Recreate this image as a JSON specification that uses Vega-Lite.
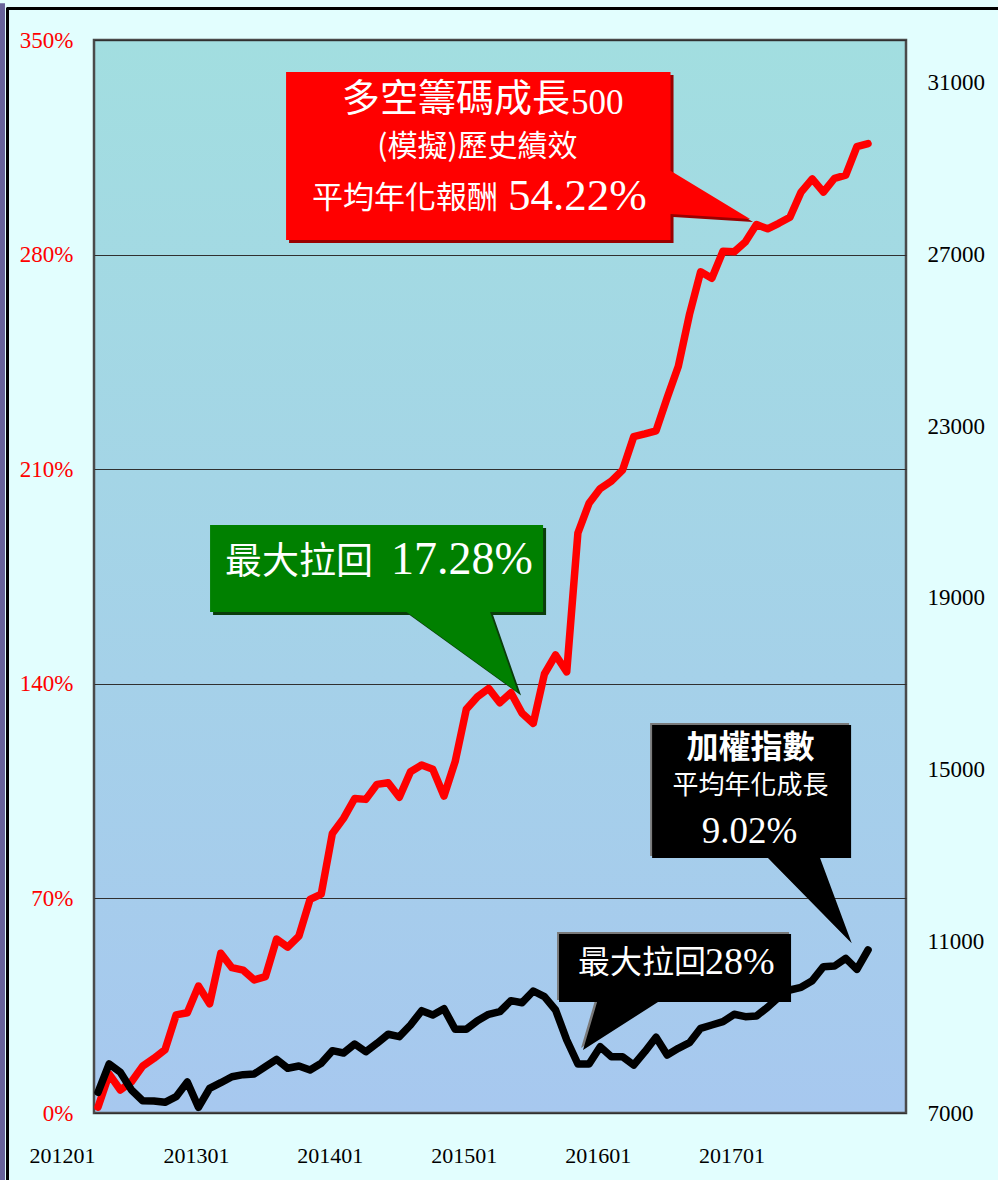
{
  "$schema": "https://vega.github.io/schema/vega-lite/v6.json",
  "width": 812,
  "height": 1073,
  "autosize": "none",
  "padding": {"left": 94, "top": 40, "right": 92, "bottom": 67},
  "background": "#E2FEFE",
  "config": {
    "view": {
      "stroke": "#4a4a4a",
      "strokeWidth": 2.5,
      "fill": {"gradient": "linear", "x1": 0, "y1": 0, "x2": 0, "y2": 1, "stops": [{"offset": 0, "color": "#A2DEE0"}, {"offset": 1, "color": "#A7C8EF"}]}
    },
    "axis": {"labelFont": "Liberation Serif", "labelFontSize": 23, "ticks": false, "domain": false, "title": null}
  },
  "datasets": {
    "series": [
      {"t": 0, "pct": 1.9, "taiex": 7482},
      {"t": 1, "pct": 12.7, "taiex": 8142},
      {"t": 2, "pct": 7.5, "taiex": 7948},
      {"t": 3, "pct": 10.2, "taiex": 7536},
      {"t": 4, "pct": 15.3, "taiex": 7287},
      {"t": 5, "pct": 17.8, "taiex": 7280},
      {"t": 6, "pct": 20.6, "taiex": 7249},
      {"t": 7, "pct": 32.0, "taiex": 7380},
      {"t": 8, "pct": 32.7, "taiex": 7722},
      {"t": 9, "pct": 41.4, "taiex": 7133},
      {"t": 10, "pct": 35.6, "taiex": 7575},
      {"t": 11, "pct": 52.1, "taiex": 7706},
      {"t": 12, "pct": 47.4, "taiex": 7846},
      {"t": 13, "pct": 46.6, "taiex": 7893},
      {"t": 14, "pct": 43.4, "taiex": 7909},
      {"t": 15, "pct": 44.5, "taiex": 8079},
      {"t": 16, "pct": 56.7, "taiex": 8251},
      {"t": 17, "pct": 54.1, "taiex": 8042},
      {"t": 18, "pct": 57.7, "taiex": 8095},
      {"t": 19, "pct": 69.7, "taiex": 8002},
      {"t": 20, "pct": 71.4, "taiex": 8158},
      {"t": 21, "pct": 91.2, "taiex": 8452},
      {"t": 22, "pct": 96.1, "taiex": 8398},
      {"t": 23, "pct": 102.6, "taiex": 8608},
      {"t": 24, "pct": 102.3, "taiex": 8428},
      {"t": 25, "pct": 107.2, "taiex": 8624},
      {"t": 26, "pct": 107.7, "taiex": 8834},
      {"t": 27, "pct": 103.0, "taiex": 8779},
      {"t": 28, "pct": 111.3, "taiex": 9050},
      {"t": 29, "pct": 113.5, "taiex": 9384},
      {"t": 30, "pct": 112.1, "taiex": 9283},
      {"t": 31, "pct": 103.4, "taiex": 9430},
      {"t": 32, "pct": 114.6, "taiex": 8950},
      {"t": 33, "pct": 131.7, "taiex": 8950},
      {"t": 34, "pct": 135.8, "taiex": 9151},
      {"t": 35, "pct": 138.5, "taiex": 9300},
      {"t": 36, "pct": 133.8, "taiex": 9360},
      {"t": 37, "pct": 137.1, "taiex": 9617},
      {"t": 38, "pct": 130.4, "taiex": 9570},
      {"t": 39, "pct": 127.1, "taiex": 9843},
      {"t": 40, "pct": 143.2, "taiex": 9710},
      {"t": 41, "pct": 149.4, "taiex": 9400},
      {"t": 42, "pct": 143.9, "taiex": 8700},
      {"t": 43, "pct": 189.2, "taiex": 8142},
      {"t": 44, "pct": 198.9, "taiex": 8142},
      {"t": 45, "pct": 203.7, "taiex": 8545},
      {"t": 46, "pct": 206.1, "taiex": 8312},
      {"t": 47, "pct": 209.7, "taiex": 8312},
      {"t": 48, "pct": 220.6, "taiex": 8118},
      {"t": 49, "pct": 221.5, "taiex": 8428},
      {"t": 50, "pct": 222.5, "taiex": 8764},
      {"t": 51, "pct": 233.3, "taiex": 8351},
      {"t": 52, "pct": 243.6, "taiex": 8507},
      {"t": 53, "pct": 260.5, "taiex": 8638},
      {"t": 54, "pct": 274.4, "taiex": 8973},
      {"t": 55, "pct": 272.3, "taiex": 9050},
      {"t": 56, "pct": 281.1, "taiex": 9127},
      {"t": 57, "pct": 280.9, "taiex": 9300},
      {"t": 58, "pct": 284.1, "taiex": 9244},
      {"t": 59, "pct": 289.8, "taiex": 9260},
      {"t": 60, "pct": 288.4, "taiex": 9463},
      {"t": 61, "pct": 290.2, "taiex": 9696},
      {"t": 62, "pct": 292.2, "taiex": 9866},
      {"t": 63, "pct": 300.4, "taiex": 9928},
      {"t": 64, "pct": 304.7, "taiex": 10083},
      {"t": 65, "pct": 300.4, "taiex": 10409},
      {"t": 66, "pct": 304.9, "taiex": 10425},
      {"t": 67, "pct": 305.9, "taiex": 10604},
      {"t": 68, "pct": 315.2, "taiex": 10348},
      {"t": 69, "pct": 316.2, "taiex": 10798}
    ],
    "callouts": [
      {"shape": "red", "i": 0, "t": 16.85, "v": 339.56},
      {"shape": "red", "i": 1, "t": 51.30, "v": 339.56},
      {"shape": "red", "i": 2, "t": 51.30, "v": 307.37},
      {"shape": "red", "i": 3, "t": 58.43, "v": 291.61},
      {"shape": "red", "i": 4, "t": 51.30, "v": 293.25},
      {"shape": "red", "i": 5, "t": 51.30, "v": 284.76},
      {"shape": "red", "i": 6, "t": 16.85, "v": 284.76},
      {"shape": "green", "i": 0, "t": 10.04, "v": 191.80},
      {"shape": "green", "i": 1, "t": 39.88, "v": 191.80},
      {"shape": "green", "i": 2, "t": 39.88, "v": 163.42},
      {"shape": "green", "i": 3, "t": 35.13, "v": 163.42},
      {"shape": "green", "i": 4, "t": 37.64, "v": 137.16},
      {"shape": "green", "i": 5, "t": 27.65, "v": 163.42},
      {"shape": "green", "i": 6, "t": 10.04, "v": 163.42},
      {"shape": "black1", "i": 0, "t": 49.65, "v": 126.56},
      {"shape": "black1", "i": 1, "t": 67.48, "v": 126.56},
      {"shape": "black1", "i": 2, "t": 67.48, "v": 83.18},
      {"shape": "black1", "i": 3, "t": 64.70, "v": 83.18},
      {"shape": "black1", "i": 4, "t": 67.54, "v": 55.35},
      {"shape": "black1", "i": 5, "t": 60.04, "v": 83.18},
      {"shape": "black1", "i": 6, "t": 49.65, "v": 83.18},
      {"shape": "black2", "i": 0, "t": 41.31, "v": 58.39},
      {"shape": "black2", "i": 1, "t": 62.10, "v": 58.39},
      {"shape": "black2", "i": 2, "t": 62.10, "v": 36.21},
      {"shape": "black2", "i": 3, "t": 50.18, "v": 36.21},
      {"shape": "black2", "i": 4, "t": 43.46, "v": 20.55},
      {"shape": "black2", "i": 5, "t": 44.72, "v": 36.21},
      {"shape": "black2", "i": 6, "t": 41.31, "v": 36.21}
    ],
    "notes": [
      {"id": "n1", "text": "多空籌碼成長", "t": 42.30, "v": 330.43},
      {"id": "n2", "text": "500", "t": 42.39, "v": 329.6},
      {"id": "n3", "text": "(模擬)歷史績效", "t": 34.0, "v": 315.10},
      {"id": "n4", "text": "平均年化報酬", "t": 35.85, "v": 298.14},
      {"id": "n5", "text": "54.22%", "t": 36.74, "v": 299.12},
      {"id": "n6", "text": "最大拉回", "t": 11.38, "v": 179.40},
      {"id": "n7", "text": "17.28%", "t": 26.26, "v": 180.22},
      {"id": "n8", "text": "加權指數", "t": 58.47, "v": 119.06},
      {"id": "n9", "text": "平均年化成長", "t": 58.47, "v": 106.66},
      {"id": "n10", "text": "9.02%", "t": 58.38, "v": 91.66},
      {"id": "n11", "text": "最大拉回", "t": 43.01, "v": 48.93},
      {"id": "n12", "text": "28%", "t": 54.40, "v": 48.93}
    ],
    "frame": [
      {"part": "top", "t1": -8.2, "t2": 81, "v1": 360.29, "v2": 360.29},
      {"part": "left", "t1": -8.11, "t2": -8.11, "v1": -22, "v2": 360.45},
      {"part": "bar", "t1": -8.56, "t2": -8.56, "v1": -22, "v2": 362}
    ]
  },
  "layer": [
    {
      "data": {"name": "series"},
      "mark": {"type": "line", "color": "#FF0000", "strokeWidth": 7.5, "strokeJoin": "round", "strokeCap": "round"},
      "encoding": {
        "x": {
          "field": "t", "type": "quantitative",
          "scale": {"domain": [-0.36, 72.4], "nice": false, "zero": false},
          "axis": {
            "values": [0, 12, 24, 36, 48, 60],
            "labelExpr": "['201201','201301','201401','201501','201601','201701'][round(datum.value/12)]",
            "labelOffset": -36, "labelPadding": 42, "labelFlush": false, "labelBound": false,
            "grid": false, "labelColor": "#000000", "labelFontSize": 22, "labelBaseline": "middle"
          }
        },
        "y": {
          "field": "pct", "type": "quantitative",
          "scale": {"domain": [0, 350], "nice": false, "zero": false},
          "axis": {
            "values": [0, 70, 140, 210, 280, 350],
            "labelExpr": "datum.value + '%'",
            "labelColor": "#FF0000", "labelPadding": 21,
            "grid": true, "gridColor": "#303030", "gridWidth": 1, "gridOpacity": 1
          }
        }
      }
    },
    {
      "data": {"name": "series"},
      "mark": {"type": "line", "color": "#000000", "strokeWidth": 7.5, "strokeJoin": "round", "strokeCap": "round"},
      "encoding": {
        "x": {"field": "t", "type": "quantitative"},
        "y": {
          "field": "taiex", "type": "quantitative",
          "scale": {"domain": [7000, 32000], "nice": false, "zero": false},
          "axis": {
            "orient": "right",
            "values": [7000, 11000, 15000, 19000, 23000, 27000, 31000],
            "format": "d", "labelColor": "#000000", "labelPadding": 21, "grid": false
          }
        }
      }
    },
    {
      "layer": [
        {
          "data": {"name": "callouts"},
          "transform": [{"filter": "datum.shape == 'red' || datum.shape == 'green'"}],
          "mark": {"type": "line", "filled": true, "interpolate": "linear-closed", "xOffset": 3, "yOffset": 3},
          "encoding": {
            "x": {"field": "t", "type": "quantitative"},
            "y": {"field": "v", "type": "quantitative", "scale": {"domain": [0, 350], "nice": false, "zero": false}, "axis": null},
            "order": {"field": "i", "type": "quantitative"},
            "detail": {"field": "shape"},
            "color": {"field": "shape", "type": "nominal", "legend": null, "scale": {"domain": ["red", "green"], "range": ["#9A0000", "#0B3D0B"]}}
          }
        },
        {
          "data": {"name": "callouts"},
          "transform": [{"filter": "datum.shape == 'black1' || datum.shape == 'black2'"}],
          "mark": {"type": "line", "filled": true, "interpolate": "linear-closed", "xOffset": -2, "yOffset": -2, "color": "#7a7a7a"},
          "encoding": {
            "x": {"field": "t", "type": "quantitative"},
            "y": {"field": "v", "type": "quantitative", "axis": null},
            "order": {"field": "i", "type": "quantitative"},
            "detail": {"field": "shape"}
          }
        },
        {
          "data": {"name": "callouts"},
          "mark": {"type": "line", "filled": true, "interpolate": "linear-closed"},
          "encoding": {
            "x": {"field": "t", "type": "quantitative"},
            "y": {"field": "v", "type": "quantitative", "axis": null},
            "order": {"field": "i", "type": "quantitative"},
            "detail": {"field": "shape"},
            "fill": {"field": "shape", "type": "nominal", "legend": null, "scale": {"domain": ["red", "green", "black1", "black2"], "range": ["#FF0000", "#008000", "#000000", "#000000"]}}
          }
        },
        {
          "data": {"name": "notes"},
          "transform": [{"filter": "datum.id == 'n1'"}],
          "mark": {"type": "text", "font": "Noto Sans CJK TC", "fontSize": 38, "color": "#FFFFFF", "align": "right", "baseline": "middle"},
          "encoding": {"x": {"field": "t", "type": "quantitative"}, "y": {"field": "v", "type": "quantitative", "axis": null}, "text": {"field": "text"}}
        },
        {
          "data": {"name": "notes"},
          "transform": [{"filter": "datum.id == 'n2'"}],
          "mark": {"type": "text", "font": "Liberation Serif", "fontSize": 35, "color": "#FFFFFF", "align": "left", "baseline": "middle"},
          "encoding": {"x": {"field": "t", "type": "quantitative"}, "y": {"field": "v", "type": "quantitative", "axis": null}, "text": {"field": "text"}}
        },
        {
          "data": {"name": "notes"},
          "transform": [{"filter": "datum.id == 'n3'"}],
          "mark": {"type": "text", "font": "Noto Sans CJK TC", "fontSize": 30, "color": "#FFFFFF", "align": "center", "baseline": "middle"},
          "encoding": {"x": {"field": "t", "type": "quantitative"}, "y": {"field": "v", "type": "quantitative", "axis": null}, "text": {"field": "text"}}
        },
        {
          "data": {"name": "notes"},
          "transform": [{"filter": "datum.id == 'n4'"}],
          "mark": {"type": "text", "font": "Noto Sans CJK TC", "fontSize": 31, "color": "#FFFFFF", "align": "right", "baseline": "middle"},
          "encoding": {"x": {"field": "t", "type": "quantitative"}, "y": {"field": "v", "type": "quantitative", "axis": null}, "text": {"field": "text"}}
        },
        {
          "data": {"name": "notes"},
          "transform": [{"filter": "datum.id == 'n5'"}],
          "mark": {"type": "text", "font": "Liberation Serif", "fontSize": 45, "color": "#FFFFFF", "align": "left", "baseline": "middle"},
          "encoding": {"x": {"field": "t", "type": "quantitative"}, "y": {"field": "v", "type": "quantitative", "axis": null}, "text": {"field": "text"}}
        },
        {
          "data": {"name": "notes"},
          "transform": [{"filter": "datum.id == 'n6'"}],
          "mark": {"type": "text", "font": "Noto Sans CJK TC", "fontSize": 37, "color": "#FFFFFF", "align": "left", "baseline": "middle"},
          "encoding": {"x": {"field": "t", "type": "quantitative"}, "y": {"field": "v", "type": "quantitative", "axis": null}, "text": {"field": "text"}}
        },
        {
          "data": {"name": "notes"},
          "transform": [{"filter": "datum.id == 'n7'"}],
          "mark": {"type": "text", "font": "Liberation Serif", "fontSize": 46, "color": "#FFFFFF", "align": "left", "baseline": "middle"},
          "encoding": {"x": {"field": "t", "type": "quantitative"}, "y": {"field": "v", "type": "quantitative", "axis": null}, "text": {"field": "text"}}
        },
        {
          "data": {"name": "notes"},
          "transform": [{"filter": "datum.id == 'n8'"}],
          "mark": {"type": "text", "font": "Noto Sans CJK TC", "fontSize": 32, "fontWeight": "bold", "color": "#FFFFFF", "align": "center", "baseline": "middle"},
          "encoding": {"x": {"field": "t", "type": "quantitative"}, "y": {"field": "v", "type": "quantitative", "axis": null}, "text": {"field": "text"}}
        },
        {
          "data": {"name": "notes"},
          "transform": [{"filter": "datum.id == 'n9'"}],
          "mark": {"type": "text", "font": "Noto Sans CJK TC", "fontSize": 26, "color": "#FFFFFF", "align": "center", "baseline": "middle"},
          "encoding": {"x": {"field": "t", "type": "quantitative"}, "y": {"field": "v", "type": "quantitative", "axis": null}, "text": {"field": "text"}}
        },
        {
          "data": {"name": "notes"},
          "transform": [{"filter": "datum.id == 'n10'"}],
          "mark": {"type": "text", "font": "Liberation Serif", "fontSize": 37, "color": "#FFFFFF", "align": "center", "baseline": "middle"},
          "encoding": {"x": {"field": "t", "type": "quantitative"}, "y": {"field": "v", "type": "quantitative", "axis": null}, "text": {"field": "text"}}
        },
        {
          "data": {"name": "notes"},
          "transform": [{"filter": "datum.id == 'n11'"}],
          "mark": {"type": "text", "font": "Noto Sans CJK TC", "fontSize": 32, "color": "#FFFFFF", "align": "left", "baseline": "middle"},
          "encoding": {"x": {"field": "t", "type": "quantitative"}, "y": {"field": "v", "type": "quantitative", "axis": null}, "text": {"field": "text"}}
        },
        {
          "data": {"name": "notes"},
          "transform": [{"filter": "datum.id == 'n12'"}],
          "mark": {"type": "text", "font": "Liberation Serif", "fontSize": 38, "color": "#FFFFFF", "align": "left", "baseline": "middle"},
          "encoding": {"x": {"field": "t", "type": "quantitative"}, "y": {"field": "v", "type": "quantitative", "axis": null}, "text": {"field": "text"}}
        },
        {
          "data": {"name": "frame"},
          "transform": [{"filter": "datum.part == 'bar'"}],
          "mark": {"type": "rule", "color": "#67639A", "strokeWidth": 5},
          "encoding": {"x": {"field": "t1", "type": "quantitative"}, "x2": {"field": "t2"}, "y": {"field": "v1", "type": "quantitative", "axis": null}, "y2": {"field": "v2"}}
        },
        {
          "data": {"name": "frame"},
          "transform": [{"filter": "datum.part != 'bar'"}],
          "mark": {"type": "rule", "color": "#000000", "strokeWidth": 3},
          "encoding": {"x": {"field": "t1", "type": "quantitative"}, "x2": {"field": "t2"}, "y": {"field": "v1", "type": "quantitative", "axis": null}, "y2": {"field": "v2"}}
        }
      ]
    }
  ],
  "resolve": {"scale": {"y": "independent"}}
}
